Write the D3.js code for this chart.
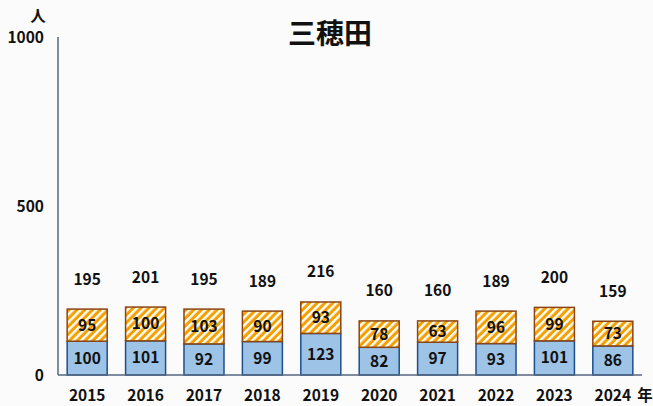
<!DOCTYPE html>
<html><head><meta charset="utf-8">
<script src="https://cdn.jsdelivr.net/npm/d3@7"></script>
<style>
html,body{margin:0;padding:0;background:#fbfbfb;}
svg{display:block;font-family:"Noto Sans CJK JP","Noto Sans",sans-serif;}
</style></head>
<body><svg id="c" width="653" height="406"></svg>
<script>
const years = ["2015","2016","2017","2018","2019","2020","2021","2022","2023","2024"];
const lower = [100,101,92,99,123,82,97,93,101,86];
const upper = [95,100,103,90,93,78,63,96,99,73];
const totals = [195,201,195,189,216,160,160,189,200,159];
const yTicks = [0,500,1000];
const title = "三穂田";
const yUnit = "人";
const xUnit = "年";

const svg = d3.select("#c");
const x0 = 58, x1 = 642, yTop = 37, yBase = 375;
const FS = 15.5;

const defs = svg.append("defs");
const pat = defs.append("pattern").attr("id","stripe").attr("patternUnits","userSpaceOnUse")
  .attr("width",5.5).attr("height",5.5).attr("patternTransform","rotate(45)");
pat.append("rect").attr("width",5.5).attr("height",5.5).attr("fill","#f5a000");
pat.append("rect").attr("x",0).attr("width",2.4).attr("height",5.5).attr("fill","#ffffff");

const x = d3.scaleBand().domain(years).range([x0,x1]).paddingInner(0.315).paddingOuter(0.157);
const y = d3.scaleLinear().domain([0,1000]).range([yBase,yTop]);

// title
svg.append("text").attr("x",330).attr("y",44).attr("text-anchor","middle")
  .attr("font-size",28).attr("font-weight","bold").attr("fill","#111").text(title);

// y labels
svg.selectAll(".yl").data(yTicks).enter().append("text")
  .attr("x",44).attr("y",d=>y(d)+5.5).attr("text-anchor","end")
  .attr("font-size",FS).attr("font-weight","bold").attr("fill","#111").text(d=>d);
svg.append("text").attr("x",38).attr("y",22).attr("text-anchor","middle")
  .attr("font-size",FS).attr("font-weight","bold").attr("fill","#111").text(yUnit);

// bars
const g = svg.append("g");
years.forEach((yr,i)=>{
  const bx = x(yr), bw = x.bandwidth();
  g.append("rect").attr("x",bx).attr("y",y(lower[i])).attr("width",bw)
    .attr("height",y(0)-y(lower[i])).attr("fill","#9dc3e6").attr("stroke","#1f4e8c").attr("stroke-width",1.5);
  g.append("rect").attr("x",bx).attr("y",y(lower[i]+upper[i])).attr("width",bw)
    .attr("height",y(lower[i])-y(lower[i]+upper[i])).attr("fill","url(#stripe)").attr("stroke","#8b4513").attr("stroke-width",1.5);
});
// labels
const lab = svg.append("g").attr("font-size",FS).attr("font-weight","bold").attr("fill","#111").attr("text-anchor","middle");
years.forEach((yr,i)=>{
  const cx = x(yr)+x.bandwidth()/2;
  lab.append("text").attr("x",cx).attr("y",(y(0)+y(lower[i]))/2+5.5).text(lower[i]);
  lab.append("text").attr("x",cx).attr("y",(y(lower[i])+y(lower[i]+upper[i]))/2+5.5).text(upper[i]);
  lab.append("text").attr("x",cx).attr("y",y(totals[i])-24.5).text(totals[i]);
  lab.append("text").attr("x",cx).attr("y",401).text(yr);
});
svg.append("text").attr("x",645).attr("y",401).attr("text-anchor","middle")
  .attr("font-size",FS).attr("font-weight","bold").attr("fill","#111").text(xUnit);

// axes
svg.append("line").attr("x1",x0).attr("x2",x0).attr("y1",yTop).attr("y2",yBase).attr("stroke","#566781").attr("stroke-width",1.5);
svg.append("line").attr("x1",x0).attr("x2",x1).attr("y1",yBase).attr("y2",yBase).attr("stroke","#566781").attr("stroke-width",1.5);
</script></body></html>
